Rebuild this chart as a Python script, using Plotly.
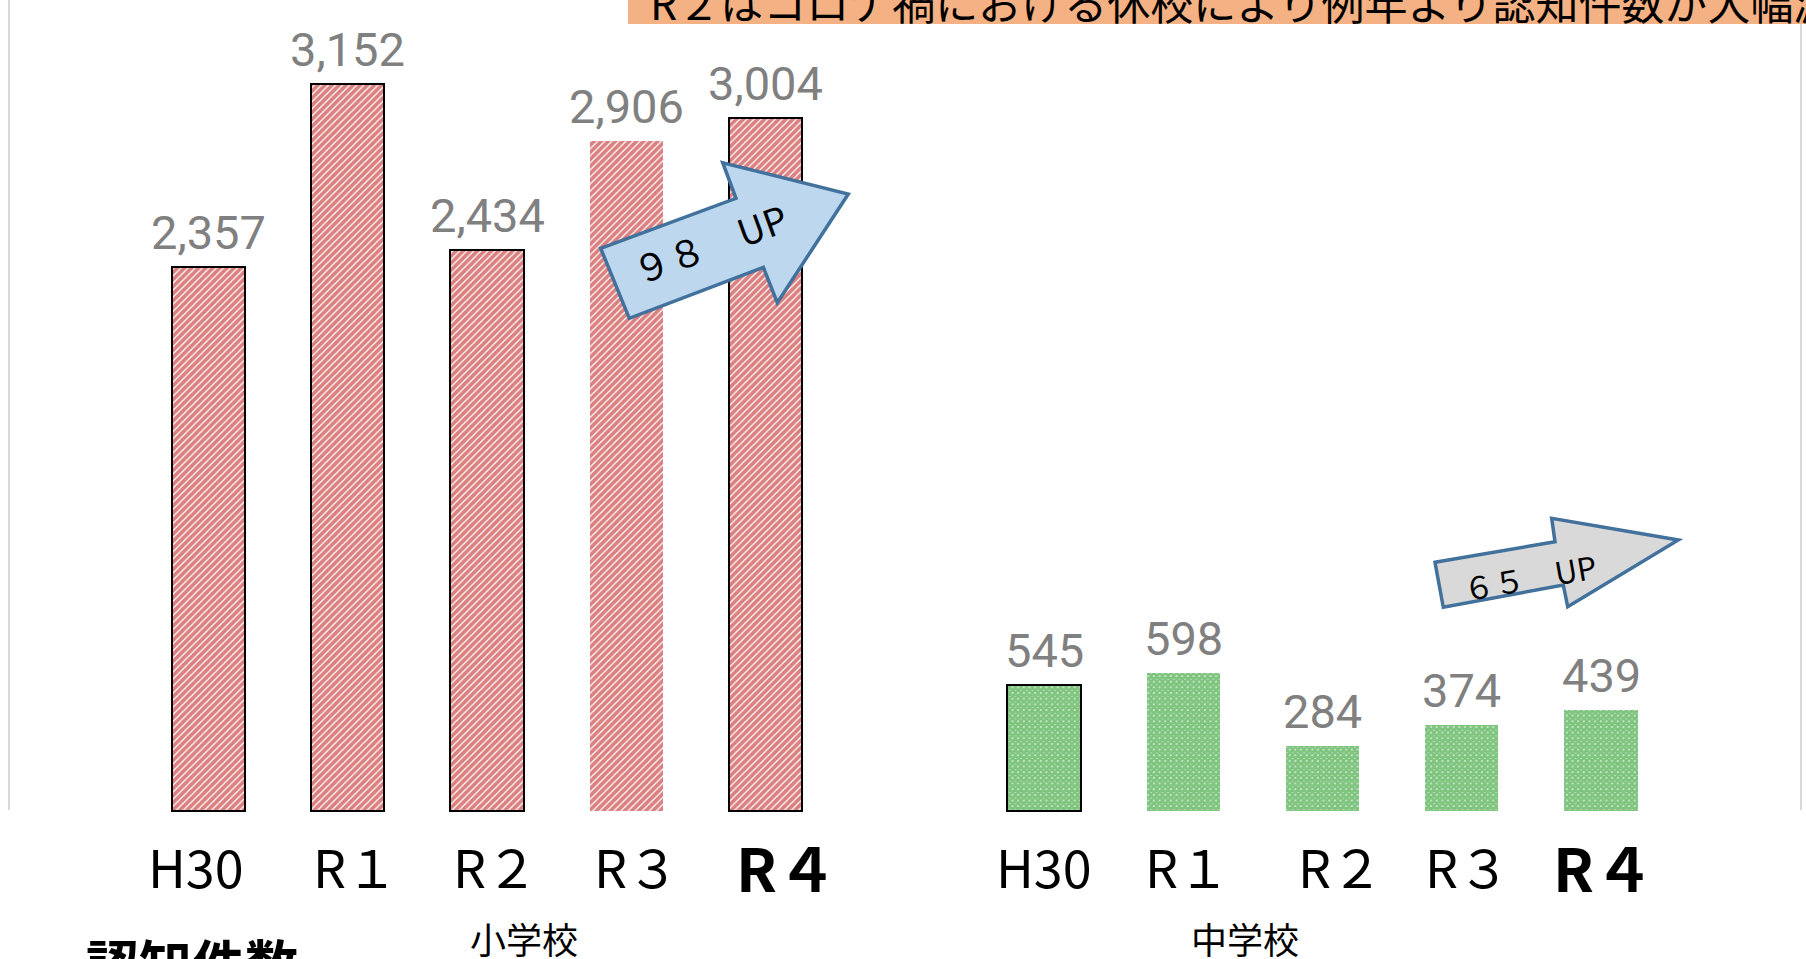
import plotly.graph_objects as go

W, H = 1806, 959

# ---- data ----
categories = ["H30", "R１", "R２", "R３", "R４"]
elem_values = [2357, 3152, 2434, 2906, 3004]
middle_values = [545, 598, 284, 374, 439]
group_labels = ["小学校", "中学校"]
elem_pos = [0, 1, 2, 3, 4]
middle_pos = [6, 7, 8, 9, 10]
banner_text = "R２はコロナ禍における休校により例年より認知件数が大幅減"
corner_label = "認知件数"
elem_arrow_text = "９８　UP"
middle_arrow_text = "６５　UP"

# ---- styles ----
elem_outline = [2, 2, 2, 0, 2]
middle_outline = [2, 0, 0, 0, 0]
elem_label_shift = [-13, 8, 8, 10, 21]
middle_label_shift = [0, 4, 18, 6, 2]


def xp(p):
    return p / W


def yp(p):
    return 1 - p / H


fig = go.Figure()
fig.add_trace(go.Bar(
    x=elem_pos, y=elem_values, width=0.525,
    marker=dict(color="white", line=dict(color="black", width=elem_outline),
                pattern=dict(shape="/", fgcolor="#B80000", bgcolor="white", size=5, solidity=0.75)),
    hoverinfo="skip", showlegend=False))
fig.add_trace(go.Bar(
    x=middle_pos, y=middle_values, width=0.525,
    marker=dict(color="white", line=dict(color="black", width=middle_outline),
                pattern=dict(shape="x", fgcolor="#008A00", bgcolor="white", size=4, solidity=0.9)),
    hoverinfo="skip", showlegend=False))

ann = []
# value labels
for pos, v in list(zip(elem_pos, elem_values)) + list(zip(middle_pos, middle_values)):
    ann.append(dict(x=pos, y=v, xref="x", yref="y", text=f"{v:,}", showarrow=False,
                    xanchor="center", yanchor="bottom", yshift=5,
                    font=dict(family="Roboto", size=47, color="#808080")))
# category labels
for positions, shifts in ((elem_pos, elem_label_shift), (middle_pos, middle_label_shift)):
    for i, (pos, lab, sh) in enumerate(zip(positions, categories, shifts)):
        last = i == len(categories) - 1
        ann.append(dict(x=pos, y=yp(865), xref="x", yref="paper", text=lab, showarrow=False,
                        xanchor="center", yanchor="middle", xshift=sh,
                        font=dict(family="Noto Sans CJK JP", size=60 if last else 52,
                                  color="black", weight="bold" if last else "normal")))
# group labels
for gx, lab in zip((524, 1245), group_labels):
    ann.append(dict(x=xp(gx), y=yp(938), xref="paper", yref="paper", text=lab, showarrow=False,
                    xanchor="center", yanchor="middle",
                    font=dict(family="Noto Sans CJK JP", size=36, color="black")))
# corner label
ann.append(dict(x=xp(84), y=yp(962), xref="paper", yref="paper", text=corner_label, showarrow=False,
                xanchor="left", yanchor="middle",
                font=dict(family="Noto Sans CJK JP", size=53, color="black", weight="bold")))
# banner text
ann.append(dict(x=xp(648), y=yp(1), xref="paper", yref="paper", text=banner_text, showarrow=False,
                xanchor="left", yanchor="middle",
                font=dict(family="Noto Sans CJK JP", size=43, color="black")))
# arrow texts
ann.append(dict(x=xp(709), y=yp(243), xref="paper", yref="paper", text=elem_arrow_text, showarrow=False,
                xanchor="center", yanchor="middle", textangle=-20,
                font=dict(family="Noto Sans CJK JP", size=37, color="black")))
ann.append(dict(x=xp(1529), y=yp(576), xref="paper", yref="paper", text=middle_arrow_text, showarrow=False,
                xanchor="center", yanchor="middle", textangle=-10,
                font=dict(family="Noto Sans CJK JP", size=31, color="black")))


def path(pts):
    return "M " + " L ".join(f"{xp(a):.5f},{yp(b):.5f}" for a, b in pts) + " Z"


blue_arrow = [(600.7, 248.3), (736, 198.3), (722.7, 162.7), (848.3, 194),
              (777.3, 302.7), (763.3, 267.3), (629.3, 318.3)]
gray_arrow = [(1435, 562.3), (1555, 541.7), (1551.7, 518.3), (1678.3, 540),
              (1567.7, 606.7), (1563.3, 585), (1443.3, 607.3)]

shapes = [
    dict(type="rect", xref="paper", yref="paper", x0=xp(628), x1=1.01, y0=yp(24), y1=1.01,
         fillcolor="#F4B183", line=dict(width=0), layer="below"),
    dict(type="line", xref="paper", yref="paper", x0=xp(9), x1=xp(9), y0=yp(0), y1=yp(810),
         line=dict(color="#D9D9D9", width=2)),
    dict(type="line", xref="paper", yref="paper", x0=xp(1801), x1=xp(1801), y0=yp(24), y1=yp(810),
         line=dict(color="#D9D9D9", width=2)),
    dict(type="path", xref="paper", yref="paper", path=path(blue_arrow),
         fillcolor="#BDD7EE", line=dict(color="#41719C", width=3.5), layer="above"),
    dict(type="path", xref="paper", yref="paper", path=path(gray_arrow),
         fillcolor="#D9D9D9", line=dict(color="#41719C", width=3.5), layer="above"),
]

# x axis: category slot pitch 139.25 px, first slot centred at 208.5 px
x_min = -208.5 / 139.25
x_max = x_min + W / 139.25

fig.update_layout(
    width=W, height=H,
    margin=dict(l=0, r=0, t=0, b=0, pad=0),
    paper_bgcolor="white", plot_bgcolor="white",
    xaxis=dict(range=[x_min, x_max], visible=False, fixedrange=True),
    yaxis=dict(range=[-641.8, 3516.9], visible=False, fixedrange=True),
    annotations=ann, shapes=shapes, bargap=0,
)

fig.write_html("out.html", config={"displayModeBar": False},
               post_script="document.body.style.margin='0';document.body.style.overflow='hidden';")
